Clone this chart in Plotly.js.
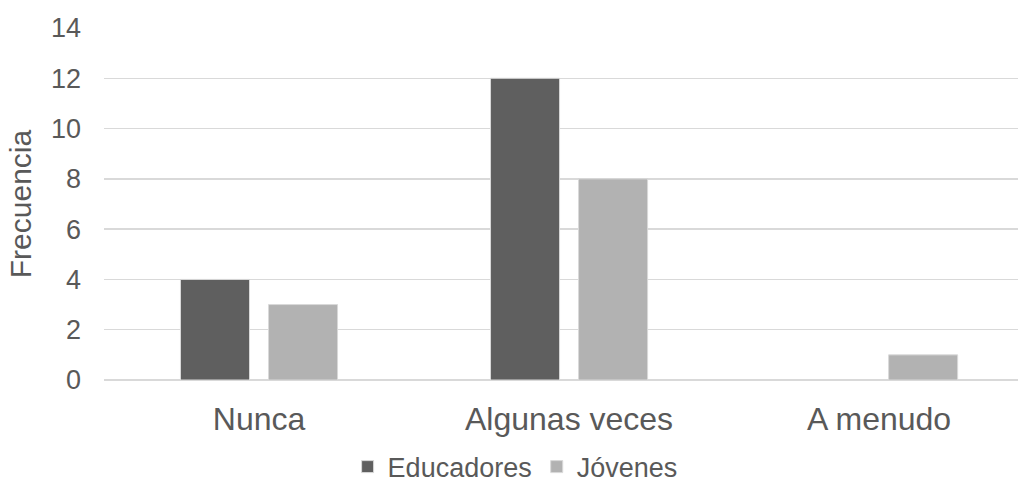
<!DOCTYPE html>
<html>
<head>
<meta charset="utf-8">
<script src="https://cdn.plot.ly/plotly-3.0.1.min.js"></script>
<style>
  html, body { margin: 0; padding: 0; background: #ffffff; }
  #chart { width: 1018px; height: 484px; }
</style>
</head>
<body>
<div id="chart"></div>
<script>
// Response categories and frequency counts per group
const categories = ["Nunca", "Algunas veces", "A menudo"];
const educadores = [4, 12, 0];
const jovenes = [3, 8, 1];
const yTicks = [0, 2, 4, 6, 8, 10, 12, 14];

const textColor = "#595959";
const fontFamily = "'Liberation Sans', Arial, sans-serif";

const traces = [
  {
    type: "bar",
    name: "Educadores",
    x: categories,
    y: educadores,
    marker: { color: "#5f5f5f", line: { color: "#d9d9d9", width: 1 } },
    hoverinfo: "x+y+name"
  },
  {
    type: "bar",
    name: "Jóvenes",
    x: categories,
    y: jovenes,
    marker: { color: "#b2b2b2", line: { color: "#d9d9d9", width: 1 } },
    hoverinfo: "x+y+name"
  }
];

const layout = {
  width: 1018,
  height: 484,
  paper_bgcolor: "#ffffff",
  plot_bgcolor: "#ffffff",
  font: { family: fontFamily, color: textColor },
  margin: { l: 104, r: 0, t: 28, b: 104, pad: 0, autoexpand: false },
  barmode: "group",
  bargap: 0.432,
  bargroupgap: 0.216,
  showlegend: true,
  legend: {
    orientation: "h",
    xref: "container",
    yref: "container",
    x: 0.506,
    xanchor: "center",
    y: 0.035,
    yanchor: "middle",
    font: { size: 27, color: textColor, family: fontFamily },
    itemwidth: 30,
    tracegroupgap: 0
  },
  xaxis: {
    type: "category",
    range: [-0.5, 2.448],
    showgrid: false,
    zeroline: false,
    showline: false,
    ticks: "",
    tickfont: { size: 32, color: textColor, family: fontFamily },
    ticklabelstandoff: 17,
    fixedrange: true
  },
  yaxis: {
    range: [0, 14],
    tickvals: yTicks,
    ticktext: yTicks.map(String),
    showgrid: true,
    gridcolor: "#d9d9d9",
    gridwidth: 1.5,
    zeroline: true,
    zerolinecolor: "#d9d9d9",
    zerolinewidth: 1.5,
    showline: false,
    ticks: "",
    tickfont: { size: 27, color: textColor, family: fontFamily },
    ticklabelstandoff: 22,
    title: {
      text: "Frecuencia",
      font: { size: 30, color: textColor, family: fontFamily },
      standoff: 10
    },
    fixedrange: true
  }
};

Plotly.newPlot("chart", traces, layout, { displayModeBar: false, staticPlot: true });
</script>
</body>
</html>
